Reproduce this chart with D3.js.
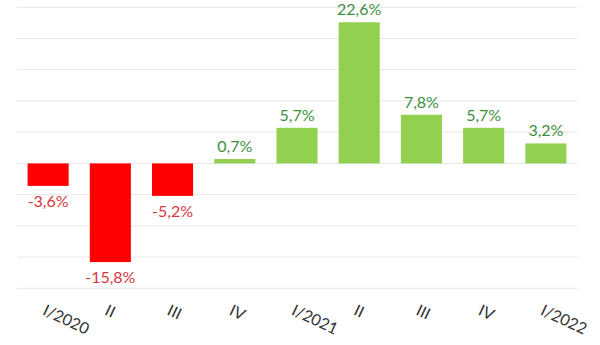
<!DOCTYPE html>
<html>
<head>
<meta charset="utf-8">
<script src="https://cdn.jsdelivr.net/npm/d3@7"></script>
<style>
  html, body { margin: 0; padding: 0; background: #fff; }
  svg { display: block; font-family: Lato, "Open Sans", sans-serif; }
</style>
</head>
<body>
<svg id="chart" width="600" height="345"></svg>
<script>
// Quarterly GDP change, %
const quarters = ["I/2020", "II", "III", "IV", "I/2021", "II", "III", "IV", "I/2022"];
const values = [-3.6, -15.8, -5.2, 0.7, 5.7, 22.6, 7.8, 5.7, 3.2];
const gridTicks = [-20, -15, -10, -5, 0, 5, 10, 15, 20, 25];

const width = 600, height = 345;
const margin = { top: 7, right: 23, bottom: 57, left: 17 };

const svg = d3.select("#chart");

const x = d3.scaleBand()
  .domain(d3.range(quarters.length))
  .range([margin.left, width - margin.right])
  .paddingInner(0.34)
  .paddingOuter(0.17);

const y = d3.scaleLinear()
  .domain([-20, 25])
  .range([height - margin.bottom + 0.3, margin.top + 0.3]);

// horizontal grid lines
svg.append("g")
  .selectAll("line")
  .data(gridTicks)
  .join("line")
  .attr("x1", margin.left)
  .attr("x2", width - margin.right)
  .attr("y1", d => y(d))
  .attr("y2", d => y(d))
  .attr("stroke", "#e6e6e6")
  .attr("stroke-width", 1);

// bars
svg.append("g")
  .selectAll("rect")
  .data(values)
  .join("rect")
  .attr("x", (d, i) => x(i))
  .attr("width", x.bandwidth())
  .attr("y", d => y(Math.max(0, d)))
  .attr("height", d => Math.abs(y(d) - y(0)))
  .attr("fill", d => d < 0 ? "#ff0000" : "#92d050");

// value labels: decimal comma, plain hyphen for negatives
const fmt = d => d3.format(".1f")(d).replace(".", ",").replace("\u2212", "-") + "%";
svg.append("g")
  .selectAll("text")
  .data(values)
  .join("text")
  .attr("x", (d, i) => x(i) + x.bandwidth() / 2)
  .attr("y", d => d < 0 ? y(d) + 21 : y(d) - 7)
  .attr("text-anchor", "middle")
  .attr("font-size", 16)
  .attr("fill", d => d < 0 ? "#d7373e" : "#3d8f3d")
  .text(fmt);

// category axis labels, tilted
const xAxis = d3.axisBottom(x)
  .tickSize(0)
  .tickFormat(i => quarters[i]);

const gx = svg.append("g")
  .attr("transform", `translate(0, ${height - margin.bottom + 18})`)
  .call(xAxis);
gx.select(".domain").remove();
gx.selectAll("text")
  .attr("font-family", "Lato, 'Open Sans', sans-serif")
  .attr("font-size", 16)
  .attr("fill", "#333")
  .attr("text-anchor", "start")
  .attr("dy", "0.45em")
  .attr("dx", "-0.15em")
  .attr("transform", "rotate(25)");
</script>
</body>
</html>
